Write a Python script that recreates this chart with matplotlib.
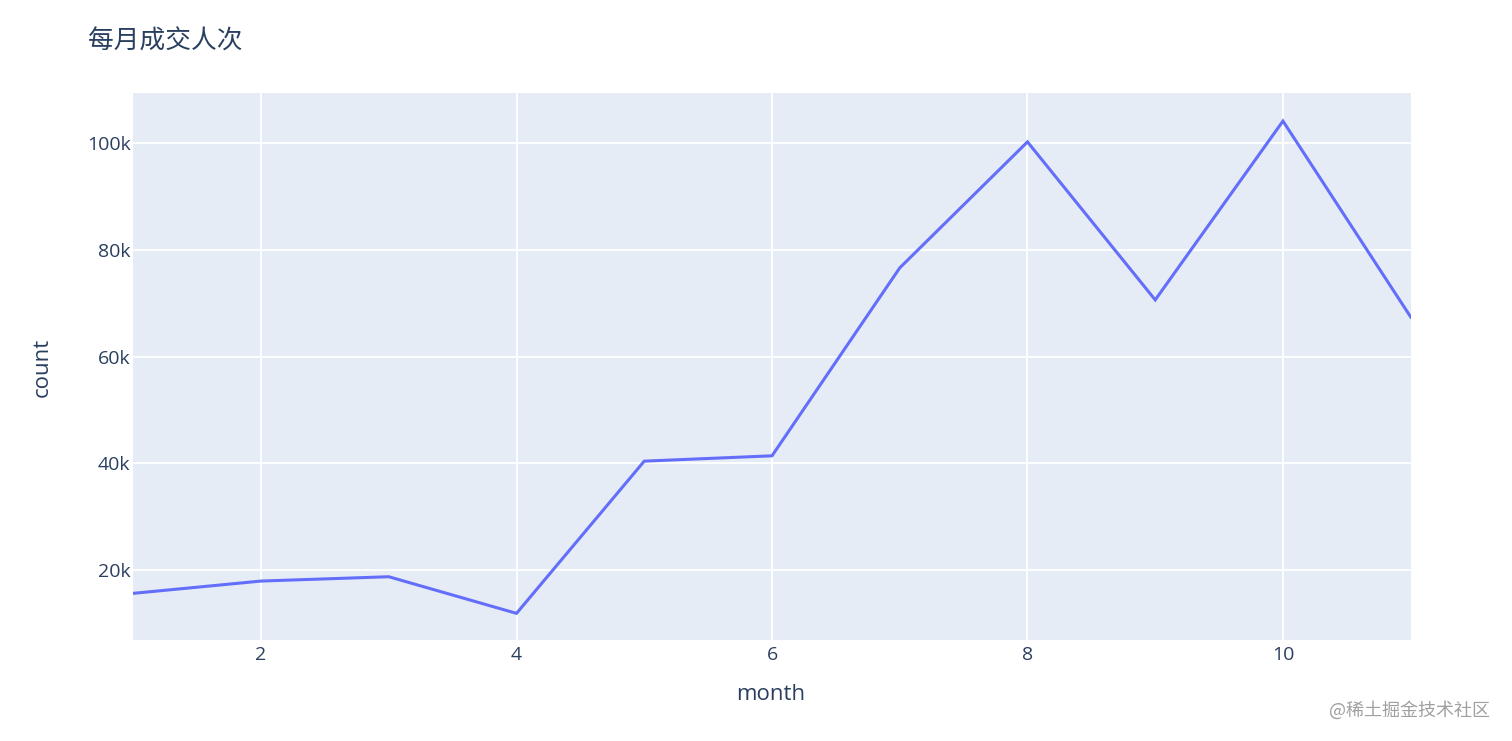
import matplotlib
matplotlib.use("Agg")
import matplotlib.pyplot as plt
from matplotlib.ticker import FuncFormatter

plt.rcParams['font.family'] = ['Open Sans', 'Noto Sans CJK SC', 'DejaVu Sans']

months = [1, 2, 3, 4, 5, 6, 7, 8, 9, 10, 11]
counts = [15640, 17940, 18750, 11890, 40400, 41400, 76600, 100200, 70600, 104100, 67400]

title = "每月成交人次"
x_label = "month"
y_label = "count"
watermark = "@稀土掘金技术社区"

W, H = 1512, 741
fig = plt.figure(figsize=(W / 100, H / 100), dpi=100)
ax = fig.add_axes([133.3 / W, 1 - 640 / H, (1410.7 - 133.3) / W, (640 - 93.3) / H])
ax.set_facecolor('#e5ecf6')
ax.plot(months, counts, color='#636efa', lw=2.2, solid_joinstyle='miter', zorder=3)

ax.set_xlim(1, 11)
ax.set_ylim(6900, 109300)
ax.set_xticks([2, 4, 6, 8, 10])
ax.set_yticks([20000, 40000, 60000, 80000, 100000])
ax.yaxis.set_major_formatter(FuncFormatter(lambda v, p: f"{int(v/1000)}k"))
ax.grid(True, color='white', lw=1.3, zorder=1)
ax.set_axisbelow(True)
for s in ax.spines.values():
    s.set_visible(False)
ax.tick_params(length=0, labelsize=14, colors='#2a3f5f')
ax.tick_params(axis='x', pad=4)
ax.tick_params(axis='y', pad=2)

txt = '#2a3f5f'
fig.text(88 / W, 1 - 42 / H, title, fontsize=18.5, color=txt, va='center', ha='left',
         family=['Noto Sans CJK SC', 'DejaVu Sans'])
fig.text(771 / W, 1 - 695 / H, x_label, fontsize=16, color=txt, ha='center', va='center')
fig.text(42 / W, 1 - 367 / H, y_label, fontsize=16, color=txt, ha='center', va='center', rotation=90)
fig.text(1490 / W, 1 - 710 / H, watermark, fontsize=13, color='#a0a0a0', ha='right', va='center',
         family=['Noto Sans CJK SC', 'DejaVu Sans'])

fig.savefig('out.png', dpi=100, facecolor='white')
